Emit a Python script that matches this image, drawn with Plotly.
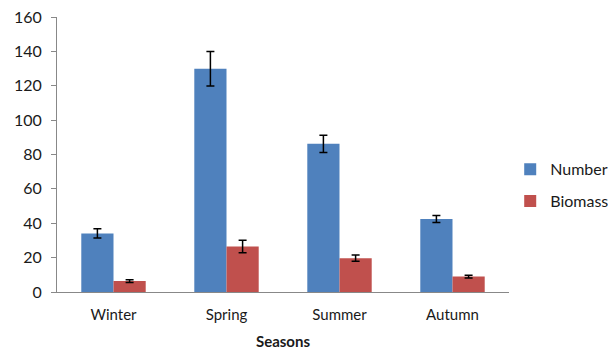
import plotly.graph_objects as go

categories = ["Winter", "Spring", "Summer", "Autumn"]
number_vals = [34.1, 129.9, 86.2, 42.5]
number_err = [2.7, 10.0, 5.0, 2.0]
biomass_vals = [6.4, 26.5, 19.7, 9.0]
biomass_err = [0.8, 3.6, 1.8, 0.8]
y_ticks = [0, 20, 40, 60, 80, 100, 120, 140, 160]

FONT = "Lato, 'Open Sans', sans-serif"

fig = go.Figure()
fig.add_trace(go.Bar(
    name="Number", x=categories, y=number_vals, legendgroup="n",
    marker=dict(color="#4F81BD", line=dict(width=0)),
    error_y=dict(type="data", array=number_err, color="black", thickness=1.5, width=4),
))
fig.add_trace(go.Bar(
    name="Biomass", x=categories, y=biomass_vals, legendgroup="b",
    marker=dict(color="#C0504D", line=dict(width=0)),
    error_y=dict(type="data", array=biomass_err, color="black", thickness=1.5, width=4),
))

fig.update_layout(
    width=608, height=343,
    margin=dict(l=49, r=107, t=9, b=59, autoexpand=False),
    paper_bgcolor="white", plot_bgcolor="white",
    barmode="group", bargap=0.43, bargroupgap=0,
    font=dict(family=FONT, size=14, color="#1a1a1a"),
    legend=dict(xref="container", x=0.826, xanchor="left",
                yref="container", y=0.483, yanchor="middle",
                font=dict(size=16, color="#1a1a1a"), tracegroupgap=8,
                itemwidth=30),
    showlegend=True,
)
fig.update_xaxes(
    title=dict(text="<b>Seasons</b>", font=dict(size=15), standoff=14),
    showline=True, linecolor="#888", linewidth=1,
    ticks="", showgrid=False, tickfont=dict(size=15),
    automargin=False, ticklabelstandoff=9,
)
fig.update_yaxes(
    range=[0, 160], tickvals=y_ticks,
    showline=True, linecolor="#888", linewidth=1,
    ticks="outside", ticklen=5, tickcolor="#888",
    showgrid=False, zeroline=False, tickfont=dict(size=16),
    automargin=False, ticklabelstandoff=6, ticklabeloverflow="allow",
)

fig.write_html("out.html")
